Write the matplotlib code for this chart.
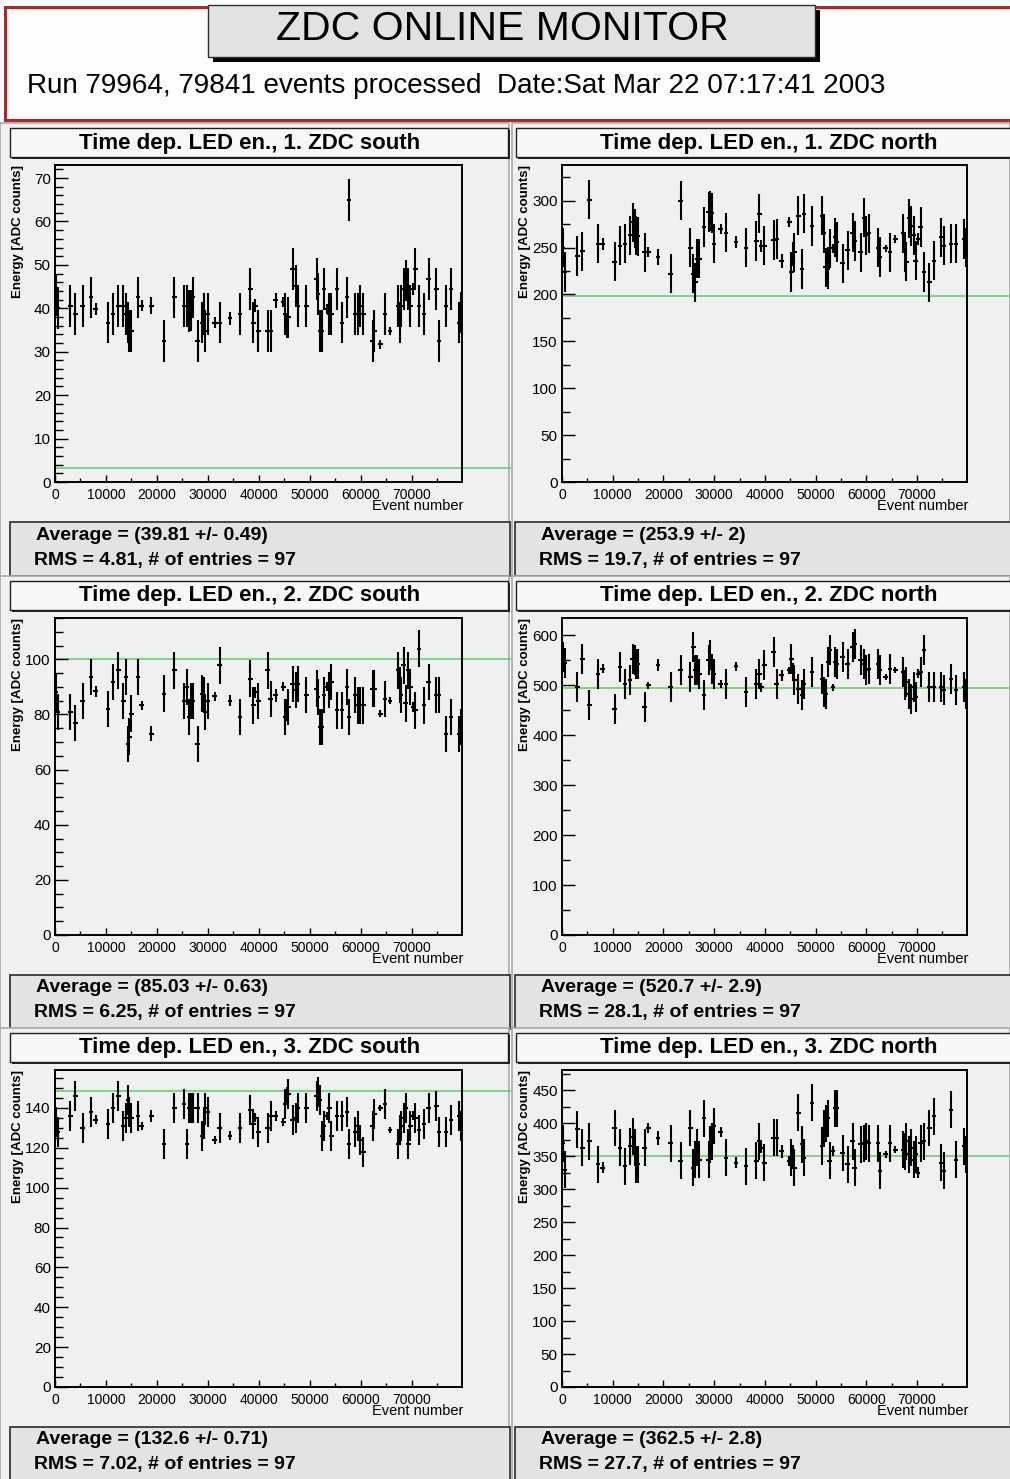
import matplotlib
matplotlib.use('Agg')
import matplotlib.pyplot as plt
from matplotlib.patches import Rectangle
from matplotlib.ticker import MultipleLocator, FormatStrFormatter

W, H = 1010, 1479

# event numbers of the 97 LED entries (overlapping ones merged)
event = [200, 500, 3000, 4000, 5400, 7100, 8000, 10400, 11400, 12400,
         13400, 13900, 14300, 14600, 15000, 16300, 17000, 18900, 21400, 23400,
         25300, 25900, 26300, 26700, 27100, 28000, 28900, 29200, 29500, 30000,
         31300, 32300, 34300, 36300, 38300, 38900, 39300, 39900, 41700, 42300,
         43300, 44800, 45200, 45500, 45800, 46600, 47300, 47700, 49300, 51300,
         51600, 51950, 52400, 52750, 53400, 53800, 54200, 55300, 56300, 57300,
         57700, 58900, 59500, 59900, 60500, 62300, 62650, 63800, 64700, 65700,
         67300, 67600, 67900, 68400, 68800, 69300, 69700, 70200, 70700, 71400,
         72400, 73300, 74800, 75300, 76700, 77700, 79300, 79600]

# relative size of the error bar (same bins for all channels)
rel_err = [1, 1, 1, 1, 1, 1, 0.3, 1, 1, 1,
           1, 1, 1, 1, 1, 1, 0.25, 0.4, 1, 1,
           1, 1, 1, 1, 1, 1, 1, 1, 1, 1,
           0.25, 1, 0.3, 1, 1, 1, 0.3, 1, 1, 1,
           0.35, 0.25, 1, 0.6, 1, 1, 1, 1, 1, 1,
           1, 1, 1, 1, 0.25, 1, 1, 1, 1, 1,
           1, 1, 1, 1, 1, 1, 1, 0.2, 1, 0.2,
           1, 1, 1, 1, 1, 1, 1, 0.3, 1, 1,
           1, 1, 1, 1, 1, 1, 1, 1]

south1 = [43, 40, 40.6, 38.7, 40.6, 42.5, 39.8, 36.7, 38.7, 40.6,
          40.6, 38.7, 36.7, 34.8, 34.8, 42.5, 40.6, 40.6, 32.5, 42.5,
          40.6, 40.6, 39.4, 39.5, 42.5, 32.5, 36.7, 38.7, 34.8, 38.7,
          36.7, 36.7, 37.7, 38.7, 44.5, 36.7, 40.6, 34.8, 34.8, 34.8,
          41.8, 41.4, 38.7, 36.0, 37.9, 49.1, 45.2, 40.6, 40.6, 46.8,
          43.3, 34.8, 34.8, 44.5, 39.8, 38.7, 38.7, 44.5, 36.7, 42.5,
          65.0, 38.7, 38.7, 40.6, 38.7, 32.5, 34.8, 31.7, 38.7, 34.8,
          40.6, 36.7, 40.6, 44.5, 46.4, 44.5, 40.6, 44.5, 49.1, 40.6,
          38.7, 46.8, 44.5, 32.5, 40.6, 44.5, 36.7, 39.0]

north1 = [250, 224, 241, 246, 301, 254, 254, 235, 252, 254,
          263, 277, 270, 263, 262, 245, 245, 240, 222, 300,
          250, 222, 213, 238, 238, 272, 288, 289, 287, 254,
          270, 266, 256, 250, 257, 286, 252, 252, 258, 259,
          236, 277, 224, 243, 245, 284, 227, 286, 273, 284,
          265, 229, 227, 249, 249, 261, 256, 233, 247, 266,
          257, 245, 282, 263, 265, 250, 240, 249, 245, 259,
          265, 245, 235, 281, 273, 263, 236, 259, 272, 224,
          213, 236, 261, 252, 254, 254, 259, 250]

south2 = [88, 81, 81, 77, 85, 93.6, 88.4, 82, 91.8, 96,
          85, 93.6, 69.4, 72, 80.3, 93.6, 83.3, 73, 87.6, 96,
          85, 90, 79, 85, 85, 69.4, 87.6, 87, 81, 85,
          86.6, 97.8, 85, 79, 93, 83.3, 88, 85, 96, 85.7,
          87, 90, 79, 81.5, 82.7, 91, 88.8, 91, 87, 89.4,
          86.4, 75.5, 75.5, 87, 90, 88.8, 91.8, 81.5, 81.5, 90,
          79, 87, 83.3, 83.3, 83.3, 89.4, 89.4, 80.3, 85.7, 85,
          96, 90.6, 87, 97.8, 84, 96, 90, 82.7, 81.5, 103.9,
          83.3, 91.8, 87, 87, 73, 79, 73, 75.5]

north2 = [556, 545, 496, 553, 460, 523, 533, 453, 536, 503,
          510, 553, 550, 543, 543, 456, 500, 541, 496, 530,
          516, 577, 530, 530, 523, 480, 550, 560, 533, 523,
          503, 503, 538, 486, 503, 523, 496, 540, 567, 503,
          520, 530, 553, 527, 510, 493, 480, 503, 527, 513,
          486, 483, 546, 570, 496, 546, 543, 556, 543, 577,
          583, 550, 543, 530, 533, 543, 530, 516, 533, 531,
          527, 500, 506, 483, 473, 496, 476, 523, 527, 570,
          496, 496, 496, 490, 513, 490, 496, 483]

south3 = [133, 128, 136, 146, 130, 138, 134, 132, 140, 146,
          131, 135, 144, 138, 135, 136, 131, 136, 122, 140,
          142, 122, 140, 140, 140, 140, 126, 132, 140, 138,
          124, 130, 126, 130, 139, 132, 135, 128, 130, 136,
          136, 133, 142, 146, 147, 134, 135, 140, 140, 146,
          148, 144, 126, 131, 136, 140, 126, 136, 136, 138,
          122, 128, 131, 124, 118, 131, 137, 140, 142, 129,
          122, 129, 131, 135, 140, 122, 131, 136, 135, 129,
          132, 140, 141, 128, 128, 134, 136, 131]

north3 = [370, 330, 391, 363, 373, 338, 333, 393, 363, 335,
          365, 380, 363, 338, 338, 363, 393, 378, 370, 343,
          393, 333, 345, 363, 345, 408, 345, 368, 373, 396,
          387, 348, 340, 335, 343, 373, 363, 340, 378, 378,
          358, 343, 348, 350, 333, 416, 368, 348, 431, 365,
          393, 400, 408, 343, 358, 423, 423, 355, 338, 373,
          333, 368, 370, 373, 370, 370, 328, 353, 370, 360,
          360, 358, 373, 353, 363, 345, 353, 325, 370, 373,
          393, 411, 340, 328, 421, 345, 365, 353]

series = [south1, north1, south2, north2, south3, north3]
titles = ["Time dep. LED en., 1. ZDC south", "Time dep. LED en., 1. ZDC north",
          "Time dep. LED en., 2. ZDC south", "Time dep. LED en., 2. ZDC north",
          "Time dep. LED en., 3. ZDC south", "Time dep. LED en., 3. ZDC north"]
err_size = [4.8, 21, 6.6, 30, 7.5, 28]
ref_level = [3.3, 198, 100, 494, 148.6, 351]
y_max = [73, 338, 115, 635, 159, 481]
y_major = [10, 50, 20, 100, 20, 50]
y_minor = [2, 25, 5, 50, 5, 25]
averages = ["39.81 +/- 0.49", "253.9 +/- 2", "85.03 +/- 0.63",
            "520.7 +/- 2.9", "132.6 +/- 0.71", "362.5 +/- 2.8"]
rms = ["4.81", "19.7", "6.25", "28.1", "7.02", "27.7"]
n_entries = 97
x_max = 79841

FONT = 'Liberation Sans'
PAD_BG = '#f0f0f0'

fig = plt.figure(figsize=(W / 100, H / 100), dpi=100)
fig.patch.set_facecolor('white')

bg = fig.add_axes([0, 0, 1, 1])
bg.set_xlim(0, W)
bg.set_ylim(H, 0)
bg.axis('off')

# header
bg.add_patch(Rectangle((5, 7), W, 113, facecolor='#fdfdfd', edgecolor='#b0262a', lw=2.2))
bg.add_patch(Rectangle((213, 10), 607, 52, facecolor='black', edgecolor='none'))
bg.add_patch(Rectangle((208, 5), 607, 52, facecolor='#e2e2e2', edgecolor='#303030', lw=1))
bg.text(502, 40, "ZDC ONLINE MONITOR", family=FONT, fontsize=29.5, ha='center', va='baseline')
bg.text(27, 93, "Run 79964, 79841 events processed  Date:Sat Mar 22 07:17:41 2003",
        family=FONT, fontsize=20.1, ha='left', va='baseline')

# pads
col_x = [0, 512]
col_w = [509, 498]
row_y = [125, 578, 1030]
ax_x = [(55, 462), (562, 967)]

for k in range(6):
    r, c = divmod(k, 2)
    px, py = col_x[c], row_y[r]
    pw = col_w[c]
    bg.add_patch(Rectangle((px, py - 2), pw, 455, facecolor=PAD_BG,
                           edgecolor='#a8a8a8', lw=1.2))
    # title box with shadow
    tx = 10 if c == 0 else 516
    tw = 498 if c == 0 else 500
    bg.add_patch(Rectangle((tx + 2, py + 5), tw, 29, facecolor='#202020', edgecolor='none'))
    bg.add_patch(Rectangle((tx, py + 3), tw, 29, facecolor='#f8f8f8', edgecolor='#202020', lw=1))
    bg.text(px + 250 + (7 if c else 0), py + 18, titles[k], family=FONT, weight='bold',
            fontsize=16, ha='center', va='center')
    # stats box
    sx = 10 if c == 0 else 515
    bg.add_patch(Rectangle((sx, py + 397), 500, 54, facecolor='#e3e3e3', edgecolor='#2a2a2a', lw=1.2))
    bg.text(sx + 26, py + 410, "Average = (%s)" % averages[k], family=FONT, weight='bold',
            fontsize=14, ha='left', va='center')
    bg.text(sx + 24, py + 435, "RMS = %s, # of entries = %d" % (rms[k], n_entries),
            family=FONT, weight='bold', fontsize=14, ha='left', va='center')

    x0, x1 = ax_x[c]
    y0, y1 = py + 40, py + 357
    ax = fig.add_axes([x0 / W, 1 - y1 / H, (x1 - x0) / W, (y1 - y0) / H])
    ax.set_facecolor(PAD_BG)
    yerr = [err_size[k] * e for e in rel_err]
    ax.errorbar(event, series[k], xerr=450, yerr=yerr, fmt='none',
                ecolor='black', elinewidth=1.5, capsize=0)
    ext = ((510 if c == 0 else 1010) - x0) / (x1 - x0)
    ax.plot([0, ext], [ref_level[k], ref_level[k]], color='#78d078', lw=1.3,
            transform=ax.get_yaxis_transform(), clip_on=False, zorder=1)
    ax.set_xlim(0, x_max)
    ax.set_ylim(0, y_max[k])
    ax.xaxis.set_major_locator(MultipleLocator(10000))
    ax.xaxis.set_minor_locator(MultipleLocator(5000))
    ax.xaxis.set_major_formatter(FormatStrFormatter('%d'))
    ax.yaxis.set_major_locator(MultipleLocator(y_major[k]))
    ax.yaxis.set_minor_locator(MultipleLocator(y_minor[k]))
    ax.yaxis.set_major_formatter(FormatStrFormatter('%d'))
    ax.tick_params(axis='x', which='major', direction='in', length=5, width=1,
                   labelsize=10, pad=4)
    ax.tick_params(axis='x', which='minor', direction='in', length=3, width=1)
    ax.tick_params(axis='y', which='major', direction='in', length=9, width=1,
                   labelsize=11, pad=3)
    ax.tick_params(axis='y', which='minor', direction='in', length=5.5, width=1)
    for lab in ax.get_xticklabels() + ax.get_yticklabels():
        lab.set_family(FONT)
    for s in ax.spines.values():
        s.set_linewidth(1.4)

    bg.text(x0 - 37, y0, "Energy [ADC counts]", family=FONT, weight='bold', fontsize=9.5,
            rotation=90, ha='center', va='top')
    bg.text(x1 + 1, py + 381, "Event number", family=FONT, fontsize=10.5,
            ha='right', va='center')

fig.savefig('out.png', dpi=100)
